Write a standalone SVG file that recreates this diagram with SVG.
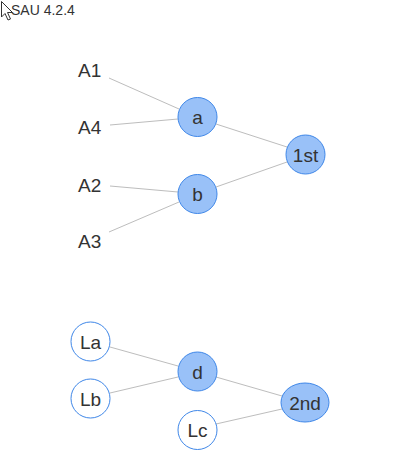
<svg xmlns="http://www.w3.org/2000/svg" width="400" height="470" viewBox="0 0 400 470">
  <style>
    text { font-family: "Liberation Sans", Arial, sans-serif; fill: #333; }
    .lbl { font-size: 19px; }
    .mid { text-anchor: middle; }
    .filled { fill: #99c1f8; stroke: #3f87e8; stroke-width: 1; }
    .empty { fill: #ffffff; stroke: #3f87e8; stroke-width: 1; }
    .edge { stroke: #bdbdbd; stroke-width: 1; fill: none; }
  </style>
  <rect width="400" height="470" fill="#ffffff"/>

  <!-- pointer -->
  <path d="M1.5,1.5 L1.5,17 L5,13.5 L8,20 L10.5,19 L7.5,12.5 L12.5,12.5 Z" fill="#ffffff" stroke="#333" stroke-width="1"/>
  <text x="11" y="15" font-size="14">SAU 4.2.4</text>

  <g id="connectors">
    <line class="edge" x1="109" y1="78" x2="179" y2="109"/>
    <line class="edge" x1="110" y1="125" x2="178" y2="119"/>
    <line class="edge" x1="110" y1="186" x2="178" y2="192"/>
    <line class="edge" x1="109" y1="232" x2="179" y2="202"/>
    <line class="edge" x1="216" y1="124" x2="287" y2="147"/>
    <line class="edge" x1="216" y1="187" x2="287" y2="162"/>
    <line class="edge" x1="110" y1="347" x2="178" y2="366"/>
    <line class="edge" x1="110" y1="393" x2="178" y2="377"/>
    <line class="edge" x1="216" y1="377" x2="282" y2="396"/>
    <line class="edge" x1="216" y1="424" x2="282" y2="409"/>
  </g>

  <g id="A1"><text class="lbl" x="78" y="77">A1</text></g>
  <g id="A4"><text class="lbl" x="78" y="134">A4</text></g>
  <g id="A2"><text class="lbl" x="78" y="192">A2</text></g>
  <g id="A3"><text class="lbl" x="78" y="248">A3</text></g>

  <g id="node-a">
    <circle class="filled" cx="197.5" cy="117" r="19.5"/>
    <text class="lbl mid" x="197.5" y="123.5">a</text>
  </g>
  <g id="node-b">
    <circle class="filled" cx="197.5" cy="194" r="19.5"/>
    <text class="lbl mid" x="197.5" y="200.5">b</text>
  </g>
  <g id="node-1st">
    <circle class="filled" cx="305.5" cy="154.5" r="19.5"/>
    <text class="lbl mid" x="305.5" y="161.5">1st</text>
  </g>

  <g id="node-La">
    <circle class="empty" cx="90.5" cy="341.5" r="19.5"/>
    <text class="lbl mid" x="90.5" y="348.5">La</text>
  </g>
  <g id="node-Lb">
    <circle class="empty" cx="90.5" cy="398.5" r="19.5"/>
    <text class="lbl mid" x="90.5" y="405.5">Lb</text>
  </g>
  <g id="node-d">
    <circle class="filled" cx="197.5" cy="371.5" r="19.5"/>
    <text class="lbl mid" x="197.5" y="378.5">d</text>
  </g>
  <g id="node-Lc">
    <circle class="empty" cx="197.5" cy="430" r="19.5"/>
    <text class="lbl mid" x="197.5" y="437">Lc</text>
  </g>
  <g id="node-2nd">
    <ellipse class="filled" cx="305" cy="402.5" rx="24" ry="19.5"/>
    <text class="lbl mid" x="305" y="409.5">2nd</text>
  </g>
</svg>
